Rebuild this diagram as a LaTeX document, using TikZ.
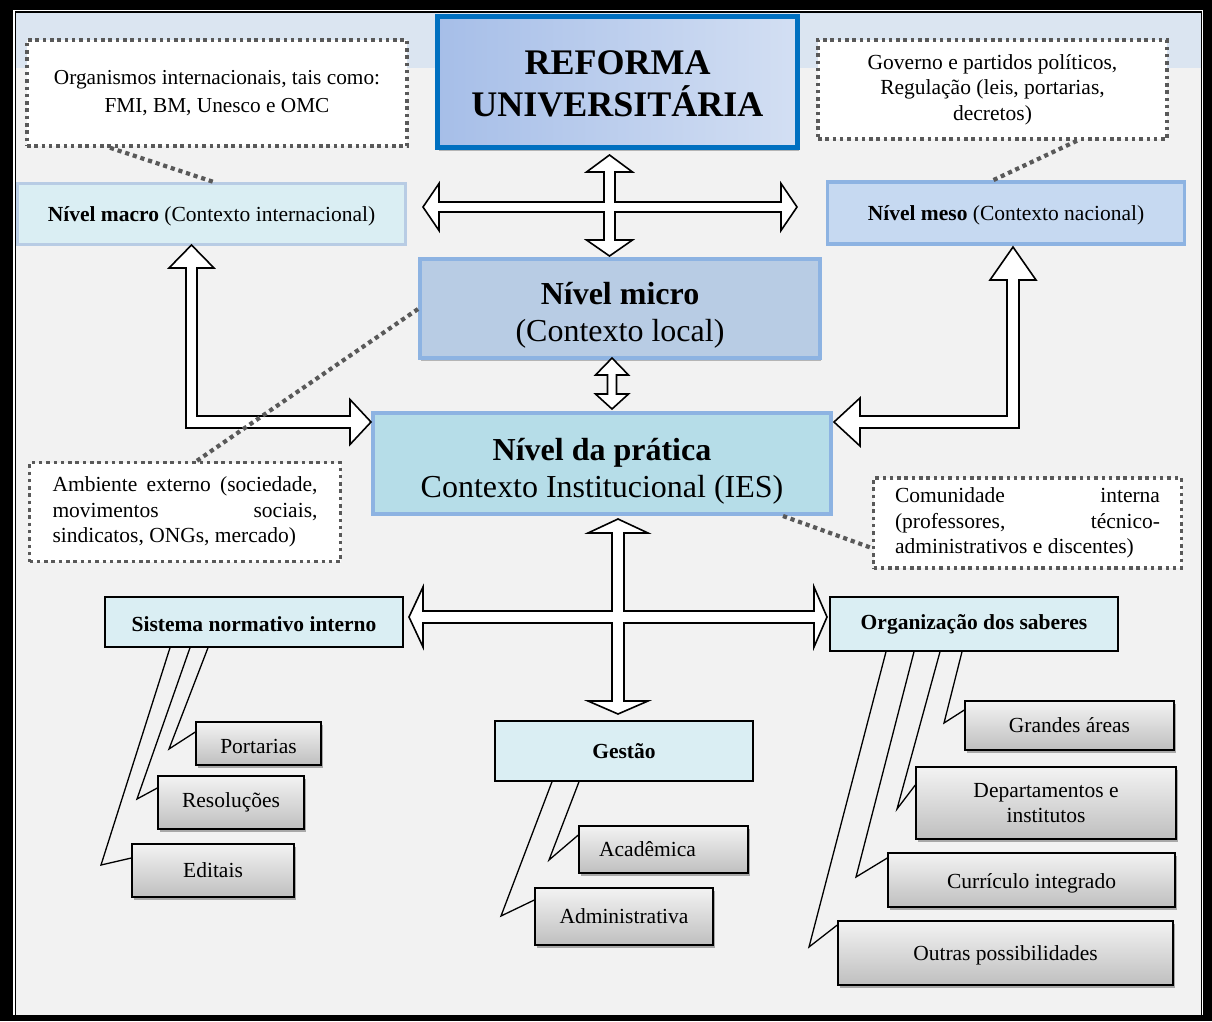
\documentclass[tikz,border=0pt]{standalone}
\usepackage{fontspec}
\setmainfont{Liberation Serif}
\usetikzlibrary{shadows,calc}

\definecolor{panel}{HTML}{F2F2F2}
\definecolor{band}{HTML}{DBE5F1}
\definecolor{dotgray}{HTML}{595959}
\definecolor{paleCyan}{HTML}{DAEEF3}
\definecolor{paleBlue}{HTML}{C6D9F1}
\definecolor{midBlue}{HTML}{B8CCE4}
\definecolor{edgeBlue}{HTML}{8DB3E2}
\definecolor{tealBlue}{HTML}{B6DDE8}
\definecolor{strongBlue}{HTML}{0070C0}
\definecolor{gradA}{HTML}{A6BEE8}
\definecolor{gradB}{HTML}{D3DFF3}
\definecolor{grayTop}{HTML}{F3F3F3}
\definecolor{grayBot}{HTML}{BFBFBF}

\tikzset{
  every node/.style={inner sep=0pt, font=\fontsize{21.5}{25.5}\selectfont},
  callout/.style={draw=dotgray, fill=white, line width=3.5pt, dash pattern=on 3.5pt off 3.8pt},
  link/.style={draw=dotgray, line width=4.2pt, dash pattern=on 4.2pt off 3.8pt},
  levelbox/.style={line width=3.5pt},
  topicbox/.style={draw=black, fill=paleCyan, line width=1.4pt,
    font=\fontsize{21.5}{25.5}\selectfont\bfseries},
  itembox/.style={draw=black, line width=1.4pt, top color=grayTop, bottom color=grayBot,
    drop shadow={shadow xshift=2pt, shadow yshift=-3pt, opacity=0.3, fill=black}},
  blockarrow/.style={draw=black, fill=white, line width=1.6pt, line join=miter},
  pointer/.style={draw=black, line width=1.3pt, line join=miter},
}

\begin{document}
\begin{tikzpicture}[x=1pt, y=-1pt]
% frame and background
\fill[black] (0,0) rectangle (1212,1021);
\fill[white] (13,10) rectangle (1203,1015);
\fill[black] (14.5,11) rectangle (1202,1015);
\fill[panel] (16,12.5) rectangle (1200.5,1015);
\fill[band] (16,12.5) rectangle (1200.5,68);
\useasboundingbox (0,0) rectangle (1212,1021);

% dotted note boxes
\node[callout, minimum width=380pt, minimum height=106pt, align=center,
      font=\fontsize{21.3}{28}\selectfont] (orgint) at (217,93)
  {Organismos internacionais, tais como:\\FMI, BM, Unesco e OMC};
\node[callout, minimum width=349pt, minimum height=99pt, align=center,
      font=\fontsize{21.5}{25.5}\selectfont] (gov) at (992.5,89.5)
  {Governo e partidos políticos,\\Regulação (leis, portarias,\\decretos)};
\node[callout, minimum width=311pt, minimum height=99pt, text width=265pt, align=justify] (amb) at (185,512)
  {\hyphenpenalty=10000 Ambiente externo (sociedade,\linebreak movimentos sociais,\linebreak sindicatos, ONGs, mercado)};
\node[callout, minimum width=308pt, minimum height=90pt, text width=265pt, align=justify] (com) at (1027.5,523)
  {\hyphenpenalty=10000 Comunidade interna\linebreak (professores, técnico-\linebreak administrativos e discentes)};

% main title
\node[draw=strongBlue, line width=5pt, shade, left color=gradA, right color=gradB,
      minimum width=360pt, minimum height=131pt, align=center,
      font=\fontsize{36}{42}\selectfont\bfseries,
      drop shadow={shadow xshift=1pt, shadow yshift=-3pt, opacity=0.25, fill=black}] (ref) at (617.5,82)
  {\rule{0pt}{28pt}REFORMA\\UNIVERSITÁRIA};

% level boxes
\node[levelbox, draw=midBlue, fill=paleCyan, minimum width=388pt, minimum height=61pt] (macro) at (211.5,214)
  {\rule{0pt}{19pt}\textbf{Nível macro} (Contexto internacional)};
\node[levelbox, draw=edgeBlue, fill=paleBlue, minimum width=357pt, minimum height=62pt] (meso) at (1006,213)
  {\rule{0pt}{19pt}\textbf{Nível meso} (Contexto nacional)};
\node[levelbox, line width=4pt, draw=edgeBlue, fill=midBlue, minimum width=400pt, minimum height=99pt,
      align=center, font=\fontsize{32}{37}\selectfont,
      drop shadow={shadow xshift=1pt, shadow yshift=-3pt, opacity=0.25, fill=black}] (micro) at (620,308.5)
  {\rule{0pt}{36pt}\textbf{Nível micro}\\(Contexto local)};
\node[levelbox, line width=4pt, draw=edgeBlue, fill=tealBlue, minimum width=458pt, minimum height=101pt,
      align=center, font=\fontsize{32}{37}\selectfont] (pratica) at (602,463.5)
  {\rule{0pt}{37pt}\textbf{Nível da prática}\\Contexto Institucional (IES)};

% second-level topics
\node[topicbox, minimum width=298pt, minimum height=50pt] (sist) at (254,622) {\rule{0pt}{19pt}Sistema normativo interno};
\node[topicbox, minimum width=288pt, minimum height=54pt] (org) at (974,624) {Organização dos saberes};
\node[topicbox, minimum width=258pt, minimum height=60pt] (gest) at (624,751) {Gestão};

% items
\node[itembox, minimum width=125pt, minimum height=43pt] (port) at (258.5,743.5) {\rule{0pt}{20pt}Portarias};
\node[itembox, minimum width=146pt, minimum height=53pt] (reso) at (231,802.5) {Resoluções};
\node[itembox, minimum width=162pt, minimum height=53pt] (edit) at (213,870.5) {Editais};
\node[itembox, minimum width=169pt, minimum height=47pt] (acad) at (663.5,849.5) {\hspace*{-32pt}Acadêmica};
\node[itembox, minimum width=178pt, minimum height=57pt] (adm) at (624,916.5) {Administrativa};
\node[itembox, minimum width=209pt, minimum height=49pt] (gra) at (1069.5,725.5) {Grandes áreas};
\node[itembox, minimum width=260pt, minimum height=72pt, align=center] (dep) at (1046,803) {Departamentos e\\institutos};
\node[itembox, minimum width=287pt, minimum height=54pt] (cur) at (1031.5,880) {\rule{0pt}{21pt}Currículo integrado};
\node[itembox, minimum width=335pt, minimum height=64pt] (out) at (1005.5,953) {\rule{0pt}{20pt}Outras possibilidades};

% pointers from topics to items
\draw[pointer] (208,0 |- sist.south) -- (169,749) -- (port.west |- 0,732);
\draw[pointer] (190,0 |- sist.south) -- (137,799) -- (reso.west |- 0,788);
\draw[pointer] (170,0 |- sist.south) -- (101,865) -- (edit.west |- 0,858);
\draw[pointer] (579,0 |- gest.south) -- (549,860) -- (acad.west |- 0,835);
\draw[pointer] (552,0 |- gest.south) -- (501,916) -- (adm.west |- 0,900);
\draw[pointer] (962,0 |- org.south) -- (944,723) -- (gra.west |- 0,710);
\draw[pointer] (940,0 |- org.south) -- (897,809) -- (dep.west |- 0,785);
\draw[pointer] (914,0 |- org.south) -- (856,877) -- (cur.west |- 0,858);
\draw[pointer] (886,0 |- org.south) -- (809,947) -- (out.west |- 0,925);

% four-way arrow below the title
\draw[blockarrow] (609.5,155) -- (632.5,172) -- (615,172) -- (615,202) -- (781,202) -- (781,183.5)
  -- (797,207) -- (781,230.5) -- (781,212) -- (615,212) -- (615,240) -- (632.5,240) -- (609.5,256)
  -- (586.5,240) -- (604,240) -- (604,212) -- (439,212) -- (439,230.5) -- (423,207) -- (439,183.5)
  -- (439,202) -- (604,202) -- (604,172) -- (586.5,172) -- cycle;

% elbow arrows from the practice level to macro and meso levels
\draw[blockarrow] (191.5,245) -- (214,268) -- (197,268) -- (197,416) -- (350,416) -- (350,399.5)
  -- (371,422) -- (350,444.5) -- (350,428) -- (186,428) -- (186,268) -- (169,268) -- cycle;
\draw[blockarrow] (1013,247) -- (1036,280) -- (1019,280) -- (1019,428) -- (860,428) -- (860,446)
  -- (834,422) -- (860,398) -- (860,416) -- (1007,416) -- (1007,280) -- (990,280) -- cycle;

% short double arrow between micro and practice levels
\draw[blockarrow] (612,358) -- (628.5,375) -- (616.5,375) -- (616.5,394) -- (628.5,394) -- (612,409)
  -- (595.5,394) -- (607.5,394) -- (607.5,375) -- (595.5,375) -- cycle;

% four-way arrow below the practice level
\draw[blockarrow] (618,519) -- (648,533) -- (624,533) -- (624,611) -- (814,611) -- (814,587)
  -- (827,617) -- (814,647) -- (814,623) -- (624,623) -- (624,701) -- (648,701) -- (618,714)
  -- (588,701) -- (612,701) -- (612,623) -- (423,623) -- (423,647) -- (409,617) -- (423,587)
  -- (423,611) -- (612,611) -- (612,533) -- (588,533) -- cycle;

% dotted links from notes to levels
\draw[link] (110,0 |- orgint.south) -- (213,0 |- macro.north);
\draw[link] (1077,0 |- gov.south) -- (993,0 |- meso.north);
\draw[link] (micro.west |- 0,309) -- (197,0 |- amb.north);
\draw[link] (783,0 |- pratica.south) -- (com.west |- 0,548);
\end{tikzpicture}
\end{document}
